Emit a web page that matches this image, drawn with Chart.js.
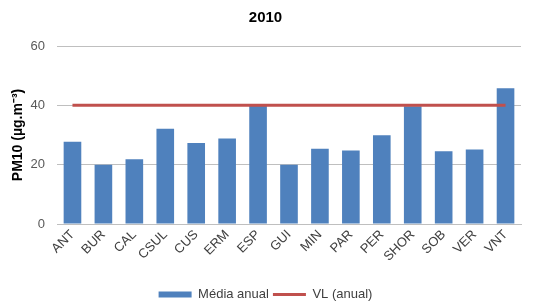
<!DOCTYPE html>
<html>
<head>
<meta charset="utf-8">
<script src="https://cdn.jsdelivr.net/npm/chart.js@4/dist/chart.umd.min.js"></script>
<style>
	body { margin: 0; background: #fff; }
	#wrap { width: 545px; height: 304px; }
</style>
</head>
<body>
<div id="wrap"><canvas id="chart"></canvas></div>
<script>
// Estações e média anual de PM10 (2010)
const stations = ['ANT', 'BUR', 'CAL', 'CSUL', 'CUS', 'ERM', 'ESP', 'GUI', 'MIN', 'PAR', 'PER', 'SHOR', 'SOB', 'VER', 'VNT'];
const annualMean = [27.7, 20.0, 21.8, 32.1, 27.3, 28.8, 39.8, 20.0, 25.4, 24.8, 29.9, 39.7, 24.5, 25.1, 45.8];
const limitValue = stations.map(() => 40);
const yTicks = [0, 20, 40, 60];

Chart.defaults.font.family = '"Liberation Sans", Arial, sans-serif';

const ctx = document.getElementById('chart');
new Chart(ctx, {
	data: {
		labels: stations,
		datasets: [
			{
				type: 'line',
				label: 'VL (anual)',
				data: limitValue,
				borderColor: '#C0504D',
				backgroundColor: '#C0504D',
				borderWidth: 3,
				pointRadius: 0,
				pointStyle: 'line',
				order: 0,
			},
			{
				type: 'bar',
				label: 'Média anual',
				data: annualMean,
				backgroundColor: '#4F81BD',
				borderWidth: 0,
				barPercentage: 0.57,
				categoryPercentage: 1,
				pointStyle: 'rect',
				order: 1,
			},
		],
	},
	options: {
		responsive: true,
		maintainAspectRatio: false,
		animation: false,
		layout: { padding: { left: 10, right: 24, top: 2, bottom: -7 } },
		scales: {
			y: {
				min: 0,
				max: 60,
				afterBuildTicks: (axis) => {
					axis.ticks = yTicks.map((v) => ({ value: v }));
				},
				afterFit: (axis) => {
					axis.width = 47;
				},
				ticks: { color: '#595959', font: { size: 13 }, padding: 12 },
				grid: { color: '#BFBFBF', drawTicks: false },
				border: { display: false },
				title: {
					display: true,
					text: 'PM10 (µg.m⁻³)',
					color: '#000',
					font: { size: 14, weight: 'bold' },
					padding: 0,
				},
			},
			x: {
				afterFit: (axis) => {
					axis.height = 60;
				},
				ticks: {
					color: '#404040',
					font: { size: 13 },
					minRotation: 45,
					maxRotation: 45,
					padding: 3,
				},
				grid: { display: false, drawTicks: false },
				border: { display: true, color: '#BFBFBF' },
			},
		},
		plugins: {
			title: {
				display: true,
				text: '2010',
				color: '#000',
				font: { size: 15, weight: 'bold' },
				padding: { top: 7, bottom: 19 },
			},
			legend: {
				position: 'bottom',
				reverse: true,
				labels: {
					color: '#404040',
					font: { size: 13 },
					usePointStyle: true,
					pointStyleWidth: 33,
					boxHeight: 6,
					padding: 4,
				},
			},
			tooltip: { enabled: false },
		},
	},
});
</script>
</body>
</html>
